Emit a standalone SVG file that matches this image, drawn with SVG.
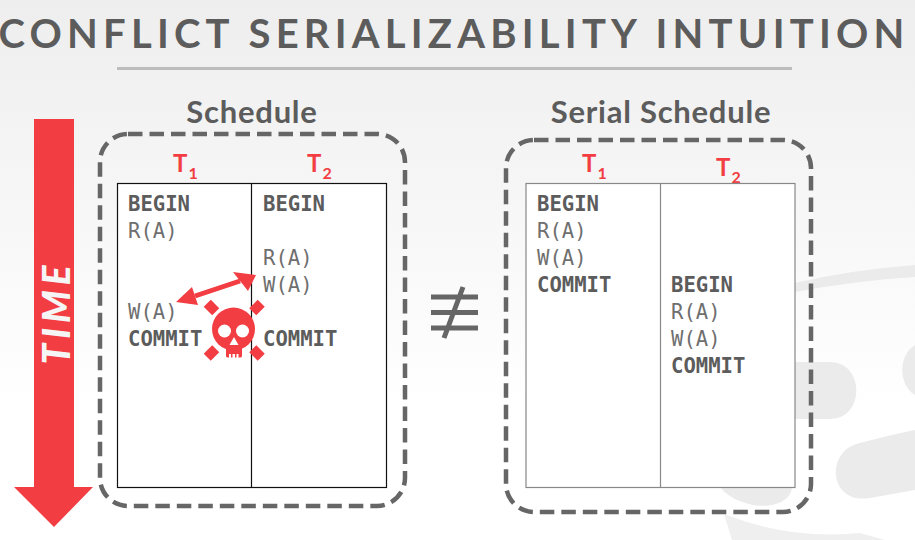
<svg xmlns="http://www.w3.org/2000/svg" width="915" height="540" viewBox="0 0 915 540">
<style>
.m{font-family:"DejaVu Sans Mono","Liberation Mono",monospace;font-size:20.6px;fill:#6f6f6f}
.b{font-weight:700;fill:#5c5c5c}
.h{font-family:Lato,"Open Sans",sans-serif;font-weight:700;font-size:31px;letter-spacing:.75px;fill:#5c5c5c;text-anchor:middle}
.t{font-family:Lato,sans-serif;font-weight:700;font-size:24px;fill:#f23d43}
.s{font-size:16px}
.box{fill:none;stroke:#666;stroke-width:4.5;stroke-dasharray:14.5 7}
.sk{fill:#f23d43}
</style>
<defs>
<linearGradient id="bg" x1="0" y1="0" x2="0" y2="1"><stop offset="0" stop-color="#eeeeee"/><stop offset="0.75" stop-color="#ffffff"/></linearGradient>
</defs>
<rect width="915" height="540" fill="url(#bg)"/>
<g id="watermark" fill="#ebebeb">
<path d="M795 283Q850 270 915 265V277Q860 280 795 292z"/>
<path d="M795 362H830C865 362 865 419 830 419H795z"/>
<path d="M915 345C898 355 898 385 915 395z"/>
<path d="M860 443Q890 435 915 430V490L870 498C828 505 825 450 860 443z"/>
<path d="M720 487H792C790 512 740 512 720 487z"/>
<path d="M724 514Q790 540 860 533L885 540H732z" fill="#efefef"/>
</g>
<g id="title">
<text x="454" y="48" text-anchor="middle" font-family="Lato,sans-serif" font-weight="700" font-size="40" letter-spacing="5.2" fill="#5c5c5c">CONFLICT SERIALIZABILITY INTUITION</text>
<rect x="117" y="67" width="675" height="3" fill="#bdbdbd"/>
</g>
<g id="time-arrow">
<path d="M34 119H74V487H93L54 527L14 487H34z" fill="#f23d43"/>
<text transform="translate(69.500 312.500) rotate(-90)" text-anchor="middle" font-family="Lato,sans-serif" font-weight="900" font-style="italic" font-size="37" letter-spacing="5" fill="#f5f5f5">TIME</text>
</g>
<g id="schedule">
<text class="h" x="252" y="123">Schedule</text>
<rect class="box" x="100" y="134" width="305" height="372" rx="28"/>
<text class="t" x="173" y="172">T<tspan class="s" dx="1" dy="7">1</tspan></text>
<text class="t" x="307" y="172">T<tspan class="s" dx="1" dy="7">2</tspan></text>
<rect x="117.500" y="183.500" width="269" height="304" fill="#fff" stroke="#111" stroke-width="1.200"/>
<path d="M251.500 183V488" stroke="#111" stroke-width="1.200"/>
<text class="m b" x="128" y="211">BEGIN</text>
<text class="m" x="128" y="238">R(A)</text>
<text class="m" x="128" y="319">W(A)</text>
<text class="m b" x="128" y="346">COMMIT</text>
<text class="m b" x="263" y="211">BEGIN</text>
<text class="m" x="263" y="265">R(A)</text>
<text class="m" x="263" y="292">W(A)</text>
<text class="m b" x="263" y="346">COMMIT</text>
</g>
<g id="serial-schedule">
<text class="h" x="661" y="123">Serial Schedule</text>
<rect class="box" x="506" y="140" width="305" height="372" rx="28"/>
<text class="t" x="582" y="172">T<tspan class="s" dx="1" dy="7">1</tspan></text>
<text class="t" x="716" y="176">T<tspan class="s" dx="1" dy="7">2</tspan></text>
<rect x="526" y="183.500" width="269" height="304" fill="#fff" stroke="#888" stroke-width="1.200"/>
<path d="M660.500 183V488" stroke="#888" stroke-width="1.200"/>
<text class="m b" x="537" y="211">BEGIN</text>
<text class="m" x="537" y="238">R(A)</text>
<text class="m" x="537" y="265">W(A)</text>
<text class="m b" x="537" y="292">COMMIT</text>
<text class="m b" x="671" y="292">BEGIN</text>
<text class="m" x="671" y="319">R(A)</text>
<text class="m" x="671" y="346">W(A)</text>
<text class="m b" x="671" y="373">COMMIT</text>
</g>
<g id="not-equal" stroke="#666" stroke-width="5" fill="none">
<path d="M431 297H478M431 312.500H478M431 328H478M463 287L444 338"/>
</g>
<g id="skull">
<circle class="sk" cx="233.500" cy="329" r="21.500"/>
<path class="sk" d="M226 345H242V356Q242 357.500 240 357.500H238.500V354H236.500V357.500H235V354H232.500V357.500H231V354H229V357.500H228Q226 357.500 226 356z"/>
<circle cx="224.500" cy="331" r="6.500" fill="#fff"/>
<circle cx="242.500" cy="331" r="6.500" fill="#fff"/>
<path d="M234 337L238.500 345H229.500z" fill="#fff"/>
<g class="sk">
<rect x="-6" y="-5" width="12" height="10" transform="translate(211.500 307.500) rotate(45)"/>
<rect x="-6" y="-5" width="12" height="10" transform="translate(257 307.500) rotate(-45)"/>
<rect x="-6" y="-5" width="12" height="10" transform="translate(211.500 353) rotate(-45)"/>
<rect x="-6" y="-5" width="12" height="10" transform="translate(257 353) rotate(45)"/>
</g>
</g>
<g id="connectors">
<path d="M195 296L240 281" stroke="#f23d43" stroke-width="5" fill="none"/>
<path d="M176 302L192 287L198 305zM256 275L233 272L248 291z" fill="#f23d43"/>
</g>
</svg>
